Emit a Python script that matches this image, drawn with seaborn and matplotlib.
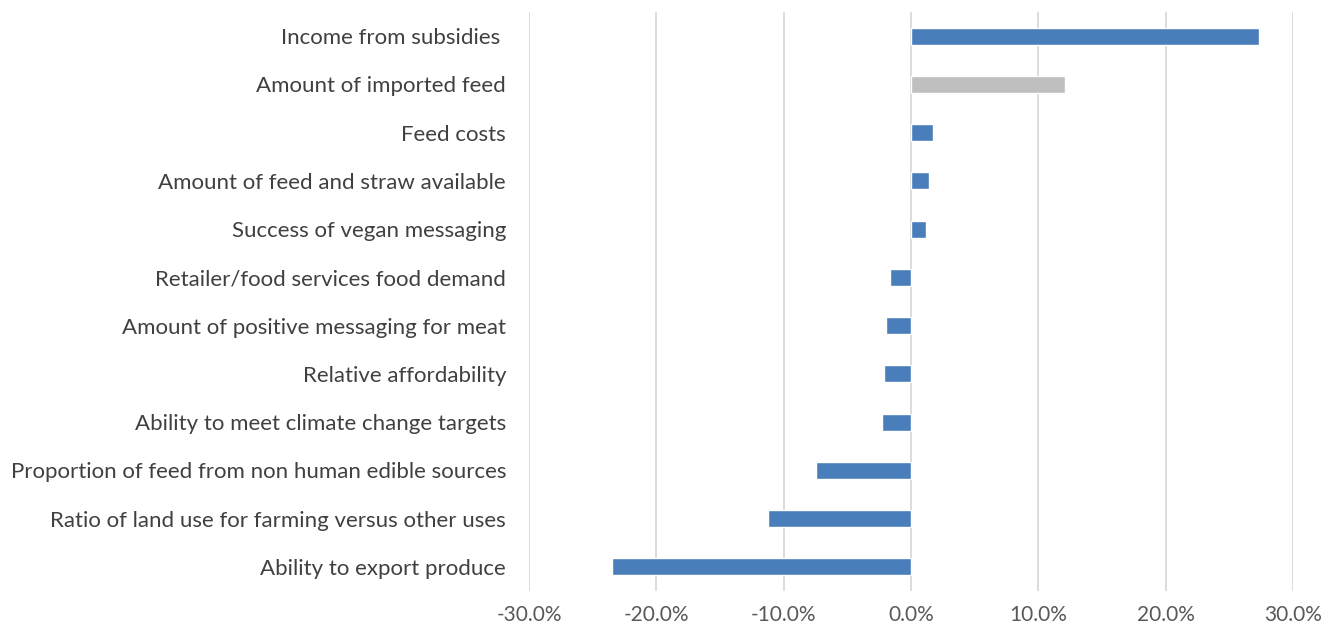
import matplotlib
matplotlib.use('Agg')
import matplotlib.pyplot as plt
import seaborn as sns
import pandas as pd
from matplotlib.ticker import FuncFormatter

# factors and their percentage change (top to bottom)
factors = [
    'Income from subsidies ',
    'Amount of imported feed',
    'Feed costs',
    'Amount of feed and straw available',
    'Success of vegan messaging',
    'Retailer/food services food demand',
    'Amount of positive messaging for meat',
    'Relative affordability',
    'Ability to meet climate change targets',
    'Proportion of feed from non human edible sources',
    'Ratio of land use for farming versus other uses',
    'Ability to export produce',
]
change = [27.3, 12.1, 1.7, 1.45, 1.2, -1.65, -1.95, -2.1, -2.3, -7.5, -11.2, -23.5]
group = ['main', 'grey', 'main', 'main', 'main', 'main', 'main', 'main', 'main', 'main', 'main', 'main']

df = pd.DataFrame({'factor': factors, 'change': change, 'group': group})

sns.set_style('white')
plt.rcParams['font.family'] = ['Lato', 'DejaVu Sans']

fig = plt.figure(figsize=(13.38, 6.32), dpi=100)
ax = fig.add_axes([529 / 1338, 1 - 591 / 632, (1293 - 529) / 1338, (591 - 12) / 632])

sns.barplot(data=df, x='change', y='factor', hue='group', orient='h',
            palette={'main': '#4A7EBB', 'grey': '#BFBFBF'}, saturation=1,
            width=0.35, dodge=False, legend=False, ax=ax, zorder=3)

ax.set_xlim(-30, 30)
ax.set_xticks(range(-30, 31, 10))
ax.xaxis.set_major_formatter(FuncFormatter(lambda v, p: f'{v:.1f}%'))
ax.grid(axis='x', color='#D9D9D9', linewidth=1.3, zorder=0)
ax.grid(axis='y', visible=False)
for s in ax.spines.values():
    s.set_visible(False)

ax.set_xlabel('')
ax.set_ylabel('')
ax.tick_params(axis='y', length=0, pad=16.5, labelsize=16, labelcolor='#404040')
ax.tick_params(axis='x', length=0, pad=10, labelsize=15, labelcolor='#595959')

plt.savefig('out.png', dpi=100)
